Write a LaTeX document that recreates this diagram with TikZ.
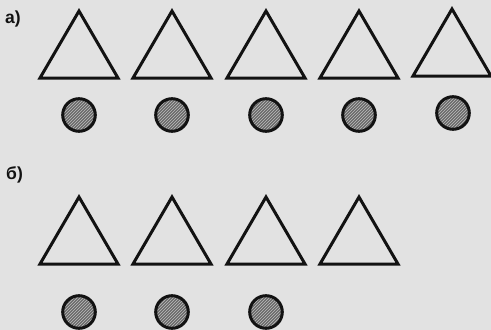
\documentclass[tikz,border=0pt]{standalone}
\usepackage{fontspec}
\setmainfont{Liberation Sans}
\usetikzlibrary{patterns}
\definecolor{bgcol}{RGB}{226,226,226}
\definecolor{inkcol}{RGB}{18,18,18}
\definecolor{dotfill}{RGB}{105,105,105}
\definecolor{hatchcol}{RGB}{190,190,190}
\tikzset{
  tri/.style={draw=inkcol, line width=3pt, line join=miter, fill=bgcol},
  dotline/.style={draw=inkcol, line width=3pt},
  lbl/.style={text=inkcol, font=\bfseries\fontsize{17.5}{19}\selectfont, anchor=west, inner sep=0pt}
}
\newcommand\mytri[2]{\draw[tri] (#1-39,#2) -- (#1,#2-67) -- (#1+39,#2) -- cycle;}
\newcommand\mydot[2]{%
  \fill[dotfill] (#1,#2) circle (16.3);
  \fill[pattern=north east lines, pattern color=hatchcol] (#1,#2) circle (16.3);
  \draw[dotline] (#1,#2) circle (16.3);}
\begin{document}
\begin{tikzpicture}[x=1pt,y=-1pt]
\fill[bgcol] (0,0) rectangle (491,330);
\useasboundingbox (0,0) rectangle (491,330);
\node[lbl] (la) at (5,19) {а)};
\node[lbl] (lb) at (6,175) {б)};
% row a
\mytri{79}{78}
\mytri{172}{78}
\mytri{266}{78}
\mytri{359}{78}
\mytri{452}{76}
\mydot{79}{115}
\mydot{172}{115}
\mydot{266}{115}
\mydot{359}{115}
\mydot{453}{113}
% row b
\mytri{79}{264}
\mytri{172}{264}
\mytri{266}{264}
\mytri{359}{264}
\mydot{79}{312}
\mydot{172}{312}
\mydot{266}{312}
\end{tikzpicture}
\end{document}
